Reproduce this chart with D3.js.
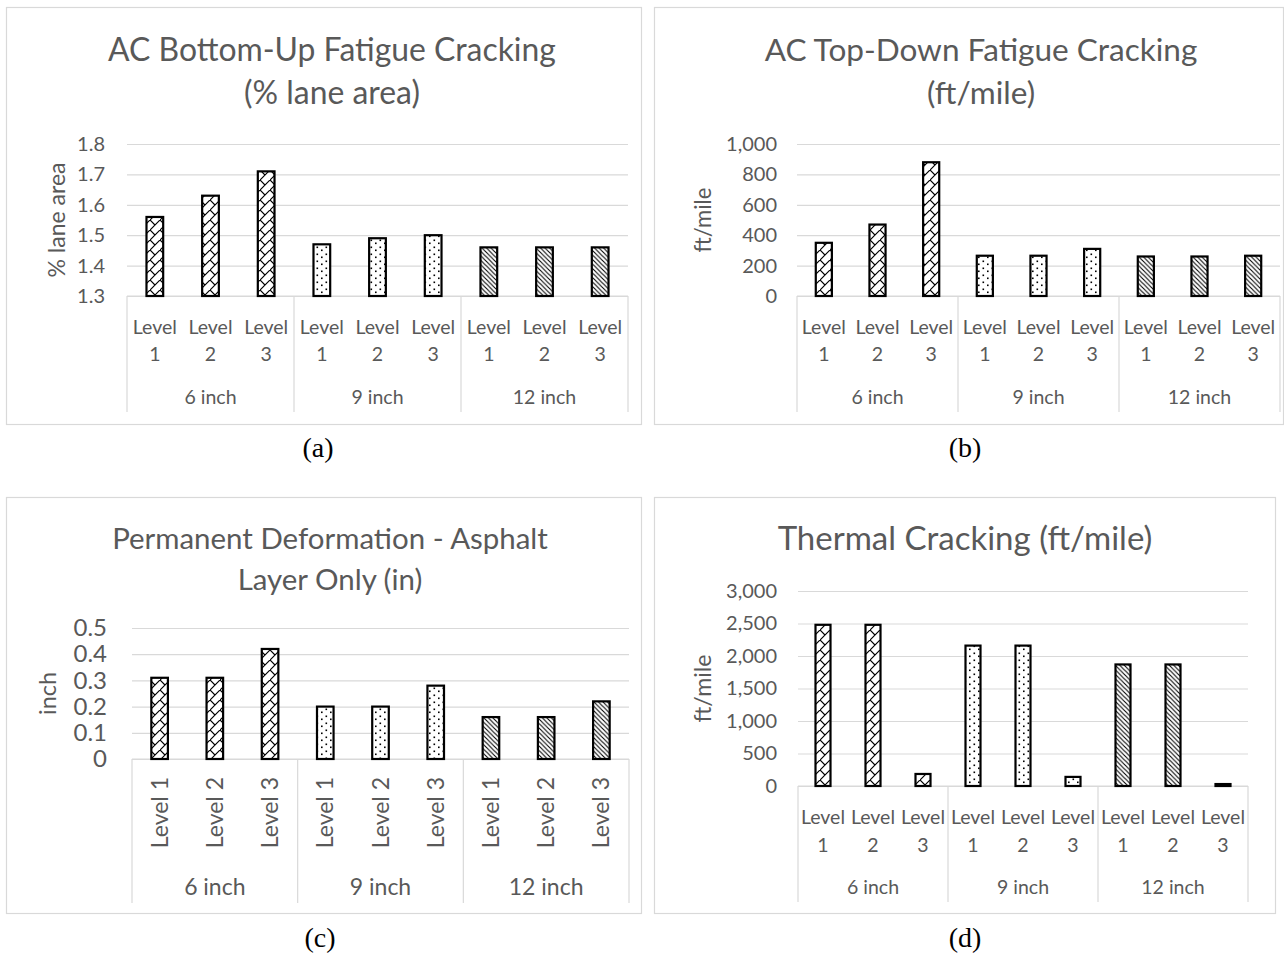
<!DOCTYPE html>
<html>
<head>
<meta charset="utf-8">
<script src="https://cdn.jsdelivr.net/npm/d3@7"></script>
<style>
  html, body { margin: 0; padding: 0; background: #fff; }
  svg text { font-family: Lato, "Open Sans", sans-serif; }
</style>
</head>
<body>
<svg id="fig" width="1284" height="954"></svg>
<script>
// Pavement distress predictions by AC thickness and input level
const groups = ["6 inch", "9 inch", "12 inch"];
const levels = ["Level 1", "Level 2", "Level 3"];

// values ordered 6 inch L1..L3, 9 inch L1..L3, 12 inch L1..L3
const bottomUpValues = [1.56, 1.63, 1.71, 1.47, 1.49, 1.50, 1.46, 1.46, 1.46];
const topDownValues  = [350, 470, 880, 265, 265, 310, 260, 260, 265];
const ruttingValues  = [0.31, 0.31, 0.42, 0.20, 0.20, 0.28, 0.16, 0.16, 0.22];
const thermalValues  = [2480, 2480, 185, 2160, 2160, 140, 1870, 1870, 30];

const bottomUpTicks = [1.3, 1.4, 1.5, 1.6, 1.7, 1.8];
const topDownTicks  = [0, 200, 400, 600, 800, 1000];
const ruttingTicks  = [0, 0.1, 0.2, 0.3, 0.4, 0.5];
const thermalTicks  = [0, 500, 1000, 1500, 2000, 2500, 3000];

const categories = groups.flatMap(g => levels.map(l => ({ group: g, level: l, key: g + "|" + l })));

const GRID = "#d9d9d9";
const TEXT = "#595959";

const svg = d3.select("#fig");
const defs = svg.append("defs");

// hatch fills, one per thickness group
const p6 = defs.append("pattern").attr("id", "pat-0").attr("patternUnits", "userSpaceOnUse")
  .attr("width", 10).attr("height", 10);
p6.append("rect").attr("width", 10).attr("height", 10).attr("fill", "#fff");
p6.append("path").attr("d", "M-1,11 L11,-1 M0,0 L5,5")
  .attr("stroke", "#000").attr("stroke-width", 1.2).attr("fill", "none");

const p9 = defs.append("pattern").attr("id", "pat-1").attr("patternUnits", "userSpaceOnUse")
  .attr("width", 9).attr("height", 7);
p9.append("rect").attr("width", 9).attr("height", 7).attr("fill", "#fff");
p9.append("rect").attr("x", 1.5).attr("y", 1.5).attr("width", 1.6).attr("height", 1.6).attr("fill", "#000");
p9.append("rect").attr("x", 6).attr("y", 4.5).attr("width", 1.6).attr("height", 1.6).attr("fill", "#000");

const p12 = defs.append("pattern").attr("id", "pat-2").attr("patternUnits", "userSpaceOnUse")
  .attr("width", 4.5).attr("height", 4.5);
p12.append("rect").attr("width", 4.5).attr("height", 4.5).attr("fill", "#fff");
p12.append("path").attr("d", "M-1,-1 L5.5,5.5 M-1,3.5 L1,5.5 M3.5,-1 L5.5,1")
  .attr("stroke", "#000").attr("stroke-width", 1.1).attr("fill", "none");

function fitWidth(sel, target) {
  const w = sel.node().getComputedTextLength();
  const fs = parseFloat(sel.attr("font-size"));
  sel.attr("font-size", fs * target / w);
  return fs * target / w;
}

const fmtDec = v => (v === 0 ? "0" : d3.format(".1f")(v));

const panels = [
  {
    values: bottomUpValues, ticks: bottomUpTicks, fmt: d3.format(".1f"),
    frame: [6, 7, 641, 424], plot: { l: 127, r: 628, t: 144, b: 296 }, boxBottom: 412,
    title: ["AC Bottom-Up Fatigue Cracking", "(% lane area)"], titleX: 332, titleY: [61, 104], titleW: 448,
    yLabel: "% lane area", yLabelX: 57, yLabelW: 115, tickSize: 20, tickPad: 22,
    rotated: false, levelY: 334, numY: 361, groupY: 404, catSize: 19.5, groupSize: 19.5,
    caption: "(a)", capX: 318, capY: 457
  },
  {
    values: topDownValues, ticks: topDownTicks, fmt: d3.format(","),
    frame: [654, 7, 1283, 424], plot: { l: 797, r: 1280, t: 144, b: 296 }, boxBottom: 412,
    title: ["AC Top-Down Fatigue Cracking", "(ft/mile)"], titleX: 981, titleY: [61, 104], titleW: 433,
    yLabel: "ft/mile", yLabelX: 703, yLabelW: 65, tickSize: 20, tickPad: 20,
    rotated: false, levelY: 334, numY: 361, groupY: 404, catSize: 19.5, groupSize: 19.5,
    caption: "(b)", capX: 965, capY: 457
  },
  {
    values: ruttingValues, ticks: ruttingTicks, fmt: fmtDec,
    frame: [6, 497, 641, 913], plot: { l: 132, r: 629, t: 628, b: 759 }, boxBottom: 903,
    title: ["Permanent Deformation - Asphalt", "Layer Only (in)"], titleX: 330, titleY: [549, 590], titleW: 436,
    yLabel: "inch", yLabelX: 48, yLabelW: 43, tickSize: 24, tickPad: 25,
    rotated: true, levelTop: 777, groupY: 895, catSize: 23, groupSize: 23,
    caption: "(c)", capX: 320, capY: 947
  },
  {
    values: thermalValues, ticks: thermalTicks, fmt: d3.format(","),
    frame: [654, 497, 1275, 913], plot: { l: 798, r: 1248, t: 591, b: 786 }, boxBottom: 902,
    title: ["Thermal Cracking (ft/mile)"], titleX: 965, titleY: [550], titleW: 375,
    yLabel: "ft/mile", yLabelX: 703, yLabelW: 68, tickSize: 20, tickPad: 21,
    rotated: false, levelY: 824, numY: 852, groupY: 894, catSize: 19.5, groupSize: 19.5,
    caption: "(d)", capX: 965, capY: 947
  }
];

panels.forEach(p => {
  const g = svg.append("g");
  const [fx0, fy0, fx1, fy1] = p.frame;

  // chart frame
  g.append("rect").attr("x", fx0 + 0.5).attr("y", fy0 + 0.5)
    .attr("width", fx1 - fx0).attr("height", fy1 - fy0)
    .attr("fill", "#fff").attr("stroke", GRID).attr("stroke-width", 1.2);

  // title
  let titleSize = null;
  p.title.forEach((line, i) => {
    const t = g.append("text").attr("x", p.titleX).attr("y", p.titleY[i])
      .attr("text-anchor", "middle").attr("fill", TEXT).attr("font-size", 28).text(line);
    if (i === 0) titleSize = fitWidth(t, p.titleW);
    else t.attr("font-size", titleSize);
  });

  const y = d3.scaleLinear()
    .domain([p.ticks[0], p.ticks[p.ticks.length - 1]])
    .range([p.plot.b, p.plot.t]);

  const x = d3.scaleBand()
    .domain(categories.map(c => c.key))
    .range([p.plot.l, p.plot.r])
    .paddingInner(0.70).paddingOuter(0.35);

  // gridlines
  const grid = g.append("g").attr("transform", `translate(${p.plot.l},0)`)
    .call(d3.axisLeft(y).tickValues(p.ticks).tickSize(-(p.plot.r - p.plot.l)).tickFormat(""));
  grid.select(".domain").remove();
  grid.selectAll(".tick line").attr("stroke", GRID).attr("stroke-width", 1.2);

  // y tick labels
  const ax = g.append("g").attr("transform", `translate(${p.plot.l},0)`)
    .call(d3.axisLeft(y).tickValues(p.ticks).tickSize(0).tickPadding(p.tickPad).tickFormat(p.fmt));
  ax.select(".domain").remove();
  ax.selectAll(".tick text").attr("fill", TEXT).attr("font-size", p.tickSize)
    .attr("font-family", "Lato, 'Open Sans', sans-serif");

  // y axis title
  const yt = g.append("text")
    .attr("transform", `translate(${p.yLabelX},${(p.plot.t + p.plot.b) / 2}) rotate(-90)`)
    .attr("text-anchor", "middle").attr("dy", "0.35em")
    .attr("fill", TEXT).attr("font-size", 20).text(p.yLabel);
  fitWidth(yt, p.yLabelW);

  // category box: baseline plus group dividers
  g.append("line").attr("x1", p.plot.l).attr("x2", p.plot.r)
    .attr("y1", p.plot.b).attr("y2", p.plot.b)
    .attr("stroke", GRID).attr("stroke-width", 1.2);
  const groupW = (p.plot.r - p.plot.l) / groups.length;
  d3.range(groups.length + 1).forEach(i => {
    const gx = p.plot.l + i * groupW;
    g.append("line").attr("x1", gx).attr("x2", gx)
      .attr("y1", p.plot.b).attr("y2", p.boxBottom)
      .attr("stroke", GRID).attr("stroke-width", 1.2);
  });

  // bars
  g.selectAll("rect.bar").data(categories.map((c, i) => ({ ...c, value: p.values[i], gi: groups.indexOf(c.group) })))
    .join("rect").attr("class", "bar")
    .attr("x", d => x(d.key))
    .attr("width", x.bandwidth())
    .attr("y", d => y(d.value))
    .attr("height", d => y(p.ticks[0]) - y(d.value))
    .attr("fill", d => `url(#pat-${d.gi})`)
    .attr("stroke", "#000").attr("stroke-width", 2.2);

  // level labels
  categories.forEach(c => {
    const cx = x(c.key) + x.bandwidth() / 2;
    if (p.rotated) {
      g.append("text")
        .attr("transform", `translate(${cx},${p.levelTop}) rotate(-90)`)
        .attr("text-anchor", "end").attr("dy", "0.35em")
        .attr("fill", TEXT).attr("font-size", p.catSize).text(c.level);
    } else {
      const parts = c.level.split(" ");
      g.append("text").attr("x", cx).attr("y", p.levelY).attr("text-anchor", "middle")
        .attr("fill", TEXT).attr("font-size", p.catSize).text(parts[0]);
      g.append("text").attr("x", cx).attr("y", p.numY).attr("text-anchor", "middle")
        .attr("fill", TEXT).attr("font-size", p.catSize).text(parts[1]);
    }
  });

  // group labels
  groups.forEach((gr, i) => {
    g.append("text").attr("x", p.plot.l + (i + 0.5) * groupW).attr("y", p.groupY)
      .attr("text-anchor", "middle").attr("fill", TEXT).attr("font-size", p.groupSize).text(gr);
  });

  // panel caption
  svg.append("text").attr("x", p.capX).attr("y", p.capY).attr("text-anchor", "middle")
    .style("font-family", "'Liberation Serif', 'Times New Roman', serif")
    .attr("font-size", 28).attr("fill", "#000").text(p.caption);
});
</script>
</body>
</html>
